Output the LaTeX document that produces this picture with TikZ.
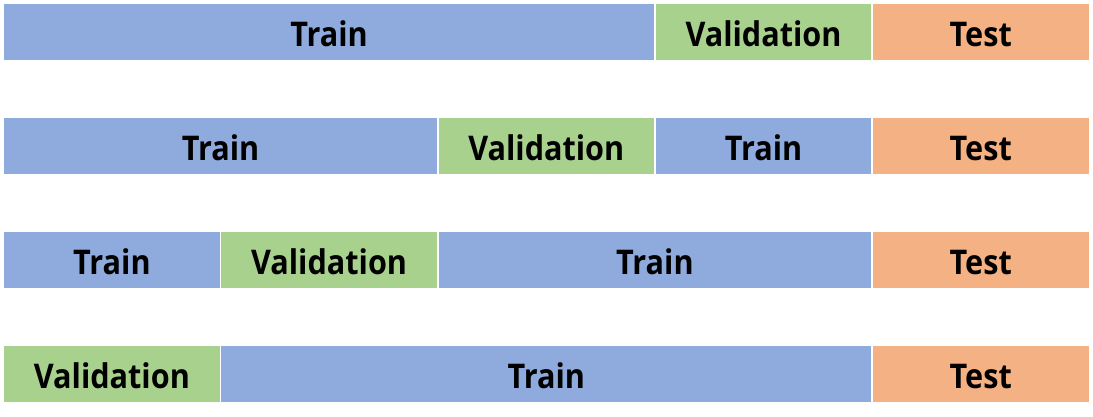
\documentclass[tikz,border=0pt]{standalone}
\usepackage{fontspec}
\setmainfont{Open Sans}[FakeStretch=0.9]
\definecolor{trainblue}{HTML}{8FAADC}
\definecolor{valgreen}{HTML}{A9D18E}
\definecolor{testorange}{HTML}{F4B183}
\tikzset{
  cell/.style={draw=white, line width=1.6pt, inner sep=0pt, anchor=north west,
    minimum height=57pt, text=black, text height=29pt, text depth=0pt,
    font=\fontsize{34}{36}\selectfont\bfseries},
  train/.style={cell, fill=trainblue},
  valid/.style={cell, fill=valgreen},
  test/.style={cell, fill=testorange},
  w/.style={minimum width=#1*217.2pt}
}
\begin{document}
\begin{tikzpicture}[x=1pt,y=-1pt]
\useasboundingbox (0,0) rectangle (1093,416);
% row 1
\node[train, w=3] (r1a) at (2.5,2.5) {Train};
\node[valid, w=1] (r1b) at (654.1,2.5) {Validation};
\node[test,  w=1] (r1c) at (871.3,2.5) {Test};
% row 2
\node[train, w=2] (r2a) at (2.5,116.5) {Train};
\node[valid, w=1] (r2b) at (436.9,116.5) {Validation};
\node[train, w=1] (r2c) at (654.1,116.5) {Train};
\node[test,  w=1] (r2d) at (871.3,116.5) {Test};
% row 3
\node[train, w=1] (r3a) at (2.5,230.5) {Train};
\node[valid, w=1] (r3b) at (219.7,230.5) {Validation};
\node[train, w=2] (r3c) at (436.9,230.5) {Train};
\node[test,  w=1] (r3d) at (871.3,230.5) {Test};
% row 4
\node[valid, w=1] (r4a) at (2.5,344.5) {Validation};
\node[train, w=3] (r4b) at (219.7,344.5) {Train};
\node[test,  w=1] (r4c) at (871.3,344.5) {Test};
\end{tikzpicture}
\end{document}
